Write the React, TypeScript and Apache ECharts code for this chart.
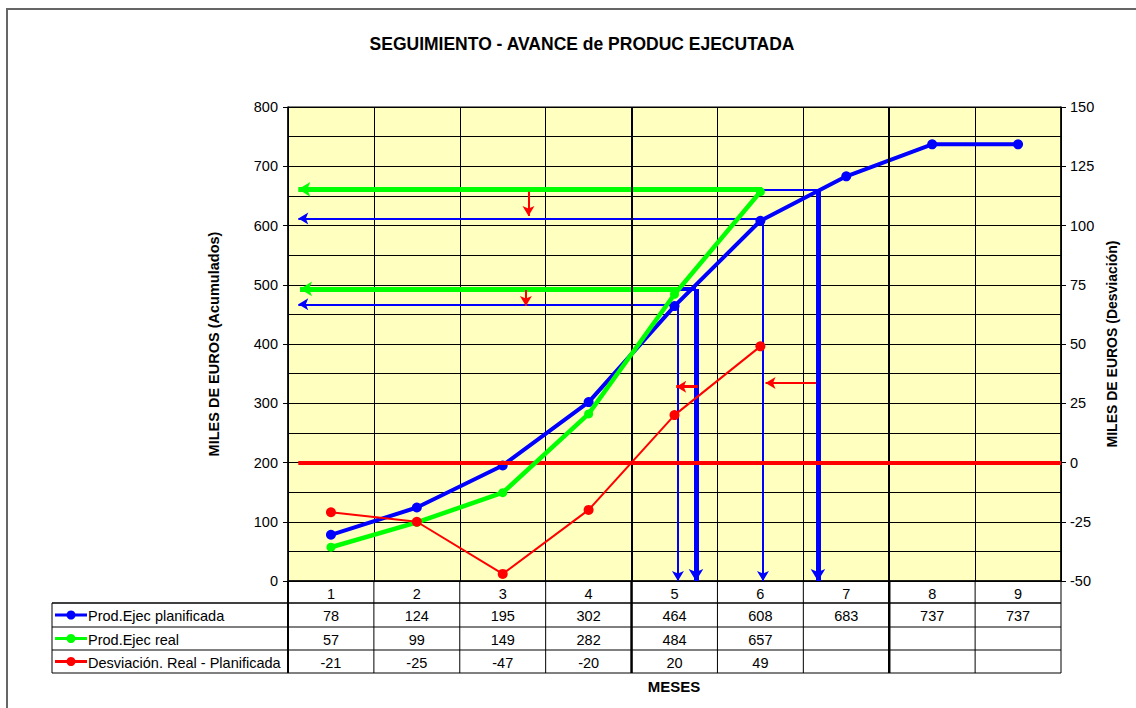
import React, { useEffect, useRef } from "react";
import * as echarts from "echarts";

const months = ["1", "2", "3", "4", "5", "6", "7", "8", "9"];
const planned = [78, 124, 195, 302, 464, 608, 683, 737, 737];
const real = [57, 99, 149, 282, 484, 657];
const deviation = [-21, -25, -47, -20, 20, 49];

const seriesNames = ["Prod.Ejec planificada", "Prod.Ejec real", "Desviación. Real - Planificada"];
const seriesColors = ["#0000FF", "#00FF00", "#FF0000"];

// Annotation lines (x in month units, y in left-axis units): [x1, y1, x2, y2, color, width, arrowAtEnd]
const annotLeft: [number, number, number, number, string, number, boolean][] = [
  [6.02, 661, 0.62, 661, "#00FF00", 5, true],
  [6.02, 661, 6.67, 661, "#0000FF", 2, false],
  [6.67, 661, 6.67, 0, "#0000FF", 5, true],
  [6.03, 612, 0.62, 612, "#0000FF", 2, true],
  [6.03, 612, 6.03, 0, "#0000FF", 2, true],
  [5.04, 493, 0.64, 493, "#00FF00", 5, true],
  [5.04, 493, 5.25, 493, "#0000FF", 4, false],
  [5.25, 493, 5.25, 0, "#0000FF", 5, true],
  [5.04, 467, 0.62, 467, "#0000FF", 2, true],
  [5.04, 467, 5.04, 0, "#0000FF", 2, true],
  [3.3, 657, 3.3, 616, "#FF0000", 2, true],
  [3.27, 491, 3.27, 464, "#FF0000", 2, true],
  [4.5, 0, 4.5, 800, "#000000", 2, false],
  [7.5, 0, 7.5, 800, "#000000", 2, false],
];
// Annotation lines on the right axis (deviation units)
const annotRight: [number, number, number, number, string, number, boolean][] = [
  [0.62, 0, 9.5, 0, "#FF0000", 4, false],
  [5.27, 32, 5.02, 32, "#FF0000", 3, true],
  [6.65, 33.5, 6.06, 33.5, "#FF0000", 2, true],
];

const GL = 288;
const GT = 107;
const GW = 773;
const GH = 474;
const W = 1136;
const H = 708;
const FONT = "Liberation Sans, Arial, sans-serif";

function toMarkLine(list: [number, number, number, number, string, number, boolean][]) {
  return list.map(([x1, y1, x2, y2, color, width, arrow]) => [
    { coord: [x1, y1], symbol: "none", lineStyle: { color, width, type: "solid" } },
    { coord: [x2, y2], symbol: arrow ? "arrow" : "none", symbolSize: width >= 4 ? [11, 12] : [9, 10] },
  ]);
}

export default function App() {
  const ref = useRef<HTMLDivElement>(null);
  useEffect(() => {
    if (!ref.current) return;
    const chart = echarts.init(ref.current, null, { renderer: "svg" });
    const cw = GW / months.length;
    const GB = GT + GH;
    const rowTops = [GB, GB + 22, GB + 46, GB + 69, GB + 92];
    const graphics: any[] = [];
    // outer frame
    graphics.push({ type: "rect", shape: { x: 7, y: 9, width: 1300, height: 900 }, style: { fill: "none", stroke: "#666", lineWidth: 2 }, silent: true });
    const line = (x1: number, y1: number, x2: number, y2: number, w = 1) =>
      graphics.push({ type: "line", shape: { x1, y1, x2, y2 }, style: { stroke: "#000", lineWidth: w }, silent: true });
    const tableLeft = 52;
    for (let r = 1; r < rowTops.length; r++) line(tableLeft, rowTops[r], GL + GW, rowTops[r], r === 1 ? 1.5 : 1);
    line(tableLeft, rowTops[1], tableLeft, rowTops[4]);
    line(GL, GB, GL, rowTops[4], 2);
    for (let k = 1; k <= months.length; k++) {
      const x = GL + k * cw;
      line(x, GB, x, rowTops[4], k === 4 || k === 7 ? 2.5 : 1);
    }
    const rows = [planned, real, deviation];
    rows.forEach((vals, r) => {
      const cy = (rowTops[r + 1] + rowTops[r + 2]) / 2;
      graphics.push({ type: "line", shape: { x1: 55, y1: cy, x2: 87, y2: cy }, style: { stroke: seriesColors[r], lineWidth: 3 }, silent: true });
      graphics.push({ type: "circle", shape: { cx: 71, cy, r: 4.5 }, style: { fill: seriesColors[r] }, silent: true });
      graphics.push({ type: "text", x: 88, y: cy + 1, style: { text: seriesNames[r], fill: "#000", font: `14.5px ${FONT}`, textVerticalAlign: "middle", textAlign: "left" }, silent: true });
      vals.forEach((v, i) => {
        graphics.push({ type: "text", x: GL + (i + 0.5) * cw, y: cy + 1, style: { text: String(v), fill: "#000", font: `14.5px ${FONT}`, textAlign: "center", textVerticalAlign: "middle" }, silent: true });
      });
    });
    graphics.push({ type: "text", x: 674, y: 686, style: { text: "MESES", fill: "#000", font: `bold 15px ${FONT}`, textAlign: "center", textVerticalAlign: "middle" }, silent: true });

    chart.setOption({
      animation: false,
      backgroundColor: "#fff",
      title: {
        text: "SEGUIMIENTO - AVANCE de PRODUC EJECUTADA",
        left: 577,
        top: 30,
        textAlign: "center",
        textStyle: { fontFamily: FONT, fontSize: 17.5, fontWeight: "bold", color: "#000" },
      },
      grid: { left: GL, top: GT, width: GW, height: GH, show: true, backgroundColor: "#FFFFC0", borderColor: "#000", borderWidth: 1 },
      xAxis: [
        {
          type: "category",
          data: months,
          boundaryGap: true,
          axisLine: { lineStyle: { color: "#000", width: 1.5 } },
          axisTick: { show: false },
          axisLabel: { color: "#000", fontFamily: FONT, fontSize: 14.5, margin: 5 },
          splitLine: { show: true, interval: 0, lineStyle: { color: "#000", width: 1 } },
        },
        { type: "value", min: 0.5, max: 9.5, show: false, splitLine: { show: false } },
      ],
      yAxis: [
        {
          type: "value",
          min: 0,
          max: 800,
          interval: 100,
          name: "MILES DE EUROS (Acumulados)",
          nameLocation: "middle",
          nameRotate: 90,
          nameGap: 67,
          nameTextStyle: { fontFamily: FONT, fontSize: 14.5, fontWeight: "bold", color: "#000" },
          axisLine: { show: true, lineStyle: { color: "#000", width: 1.5 } },
          axisTick: { show: true, length: 5, lineStyle: { color: "#000" } },
          axisLabel: { color: "#000", fontFamily: FONT, fontSize: 14.5, margin: 10 },
          splitLine: { show: true, lineStyle: { color: "#000", width: 1 } },
          minorTick: { show: false, splitNumber: 2 },
          minorSplitLine: { show: true, lineStyle: { color: "#000", width: 1 } },
        },
        {
          type: "value",
          min: -50,
          max: 150,
          interval: 25,
          name: "MILES DE EUROS (Desviación)",
          nameLocation: "middle",
          nameRotate: 90,
          nameGap: 41,
          nameTextStyle: { fontFamily: FONT, fontSize: 14, fontWeight: "bold", color: "#000" },
          axisLine: { show: true, lineStyle: { color: "#000", width: 1.5 } },
          axisTick: { show: true, length: 5, lineStyle: { color: "#000" } },
          axisLabel: { color: "#000", fontFamily: FONT, fontSize: 14.5, margin: 9 },
          splitLine: { show: false },
        },
      ],
      series: [
        {
          name: "annot-left",
          type: "line",
          xAxisIndex: 1,
          yAxisIndex: 0,
          data: [],
          z: 3,
          markLine: { silent: true, animation: false, label: { show: false }, data: toMarkLine(annotLeft) },
        },
        {
          name: seriesNames[0],
          type: "line",
          data: planned,
          yAxisIndex: 0,
          symbol: "circle",
          symbolSize: 10,
          lineStyle: { color: seriesColors[0], width: 4 },
          itemStyle: { color: seriesColors[0] },
          z: 4,
        },
        {
          name: seriesNames[1],
          type: "line",
          data: real,
          yAxisIndex: 0,
          symbol: "circle",
          symbolSize: 9,
          lineStyle: { color: seriesColors[1], width: 4.5 },
          itemStyle: { color: seriesColors[1] },
          z: 5,
        },
        {
          name: seriesNames[2],
          type: "line",
          data: deviation,
          yAxisIndex: 1,
          symbol: "circle",
          symbolSize: 10,
          lineStyle: { color: seriesColors[2], width: 2 },
          itemStyle: { color: seriesColors[2] },
          z: 6,
        },
        {
          name: "annot-right",
          type: "line",
          xAxisIndex: 1,
          yAxisIndex: 1,
          data: [],
          z: 7,
          markLine: { silent: true, animation: false, label: { show: false }, data: toMarkLine(annotRight) },
        },
      ],
      graphic: graphics,
    });
    return () => chart.dispose();
  }, []);
  return <div ref={ref} style={{ position: "fixed", left: 0, top: 0, width: W, height: H }} />;
}
